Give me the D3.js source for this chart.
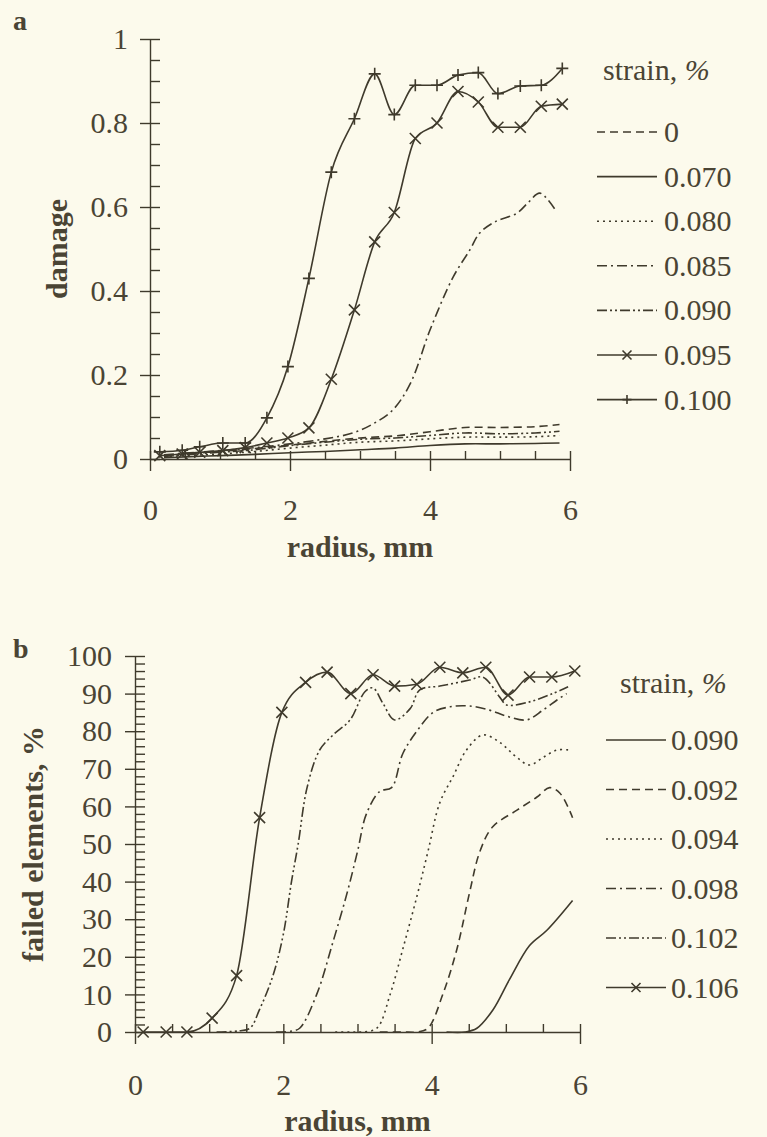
<!DOCTYPE html>
<html>
<head>
<meta charset="utf-8">
<script src="https://cdn.jsdelivr.net/npm/d3@7"></script>
<style>
  html, body { margin: 0; padding: 0; background: #fcfaec; }
  svg { display: block; }
</style>
</head>
<body>
<div id="chart"></div>
<script>
// ── Panel a: damage vs radius ────────────────────────────────────────────────
const aRadiusMarked = [0.14, 0.46, 0.71, 1.04, 1.36, 1.67, 1.97, 2.27, 2.59, 2.92,
                       3.21, 3.49, 3.79, 4.10, 4.40, 4.69, 4.97, 5.29, 5.59, 5.89];
const aDamage100 = [0.017, 0.021, 0.029, 0.038, 0.038, 0.098, 0.22, 0.43, 0.683, 0.81,
                    0.917, 0.82, 0.89, 0.89, 0.914, 0.92, 0.87, 0.888, 0.89, 0.93];
const aDamage095 = [0.008, 0.012, 0.016, 0.02, 0.027, 0.038, 0.05, 0.074, 0.19, 0.355,
                    0.517, 0.587, 0.763, 0.80, 0.875, 0.85, 0.79, 0.79, 0.84, 0.845];

const aRadiusLow = [0.2, 0.5, 1.0, 1.5, 2.0, 2.5, 3.0, 3.5, 4.0, 4.5, 5.0, 5.5, 5.85];
const aDamage0   = [0.008, 0.012, 0.018, 0.025, 0.033, 0.042, 0.05, 0.055, 0.065, 0.075, 0.075, 0.077, 0.082];
const aDamage090 = [0.006, 0.010, 0.016, 0.022, 0.032, 0.040, 0.047, 0.050, 0.056, 0.062, 0.060, 0.062, 0.066];
const aDamage080 = [0.005, 0.008, 0.012, 0.018, 0.026, 0.033, 0.040, 0.043, 0.048, 0.052, 0.052, 0.053, 0.056];
const aDamage070 = [0.003, 0.005, 0.008, 0.011, 0.015, 0.018, 0.022, 0.026, 0.032, 0.036, 0.036, 0.037, 0.038];

const aRadius085 = [0.2, 0.5, 1.0, 1.5, 2.0, 2.5, 2.9, 3.2, 3.47, 3.72, 4.0, 4.33, 4.57,
                    4.71, 4.93, 5.24, 5.4, 5.57, 5.81];
const aDamage085 = [0.01, 0.014, 0.02, 0.027, 0.036, 0.048, 0.062, 0.085, 0.117, 0.18, 0.307, 0.433, 0.498,
                    0.538, 0.565, 0.585, 0.61, 0.633, 0.588];

const aXTicks = [0, 2, 4, 6];
const aYTicks = [0, 0.2, 0.4, 0.6, 0.8, 1];

// ── Panel b: failed elements vs radius ──────────────────────────────────────
const bRadius106 = [0.11, 0.42, 0.70, 1.04, 1.37, 1.68, 1.98, 2.30, 2.59, 2.91,
                    3.21, 3.50, 3.80, 4.11, 4.42, 4.73, 5.03, 5.32, 5.62, 5.93];
const bFailed106 = [0, 0, 0, 3.7, 15, 57, 85, 93, 95.7, 90,
                    95, 92, 92.5, 97, 95.5, 97, 89.6, 94.4, 94.4, 96];

const bRadius102 = [1.1, 1.4, 1.55, 1.68, 1.86, 2.0, 2.11, 2.2, 2.32, 2.49, 2.67, 2.9, 3.1,
                    3.21, 3.34, 3.5, 3.71, 3.84, 4.11, 4.51, 4.69, 4.92, 5.01, 5.32, 5.63, 5.84];
const bFailed102 = [0, 0.3, 1, 6, 15, 26, 40, 50, 65, 75, 79, 83, 90.5,
                    91.5, 87.5, 83, 86, 91, 92, 93.6, 94.4, 89, 87, 87.8, 90, 91.8];

const bRadius098 = [1.9, 2.1, 2.22, 2.45, 2.67, 2.86, 3.0, 3.12, 3.3, 3.46, 3.61, 3.8, 4.02,
                    4.25, 4.51, 4.78, 5.01, 5.28, 5.5, 5.69, 5.82];
const bFailed098 = [0, 0.2, 1, 10, 24, 37, 48, 58, 64, 65, 74, 80, 85,
                    86.5, 86.7, 85.6, 84, 83, 85.6, 88.3, 90];

const bRadius094 = [2.7, 2.9, 3.05, 3.26, 3.44, 3.61, 3.8, 3.95, 4.11, 4.29, 4.47, 4.69,
                    4.92, 5.15, 5.32, 5.5, 5.69, 5.86];
const bFailed094 = [0, 0, 0, 1, 10, 22, 36, 48, 61, 68, 75, 79,
                    77, 73, 71, 73, 75, 75];

const bRadius092 = [3.3, 3.6, 3.8, 3.95, 4.15, 4.34, 4.51, 4.65, 4.82, 5.15, 5.42, 5.59, 5.73, 5.9];
const bFailed092 = [0, 0, 0, 1, 10, 22, 37, 48, 54.5, 59, 62.5, 65, 63.5, 57];

const bRadius090 = [4.2, 4.45, 4.61, 4.83, 5.05, 5.32, 5.55, 5.9];
const bFailed090 = [0, 0, 1, 6, 14, 23, 27, 35];

const bXTicks = [0, 2, 4, 6];
const bYTicks = [0, 10, 20, 30, 40, 50, 60, 70, 80, 90, 100];

// ── Line styles ─────────────────────────────────────────────────────────────
const INK = '#3f3a2c';
const TEXT = '#4a4434';
const FONT = '"Liberation Serif", "DejaVu Serif", serif';
const DASH = {
  solid: null,
  dashed: '8,5',
  dotted: '2,4',
  dashDot: '10,4,2,4',
  dashDotDot: '10,3,2,3,2,3'
};

const W = 767, H = 1137;

const svg = d3.select('#chart').append('svg')
  .attr('width', W)
  .attr('height', H)
  .attr('font-family', FONT);

svg.append('rect').attr('width', W).attr('height', H).attr('fill', '#fcfaec');

function zip(xs, ys) { return xs.map((x, i) => ({ x, y: ys[i] })); }

function marker(g, type, size) {
  const s = size;
  const d = type === 'plus'
    ? `M${-s},0H${s}M0,${-s}V${s}`
    : `M${-s},${-s}L${s},${s}M${-s},${s}L${s},${-s}`;
  g.append('path').attr('d', d).attr('stroke', INK).attr('stroke-width', 1.6).attr('fill', 'none');
}

function drawPanel(opt) {
  const { x, y, series, xTicks, yTicks, yMinor, xMinor, yFormat, yLabelPad } = opt;
  const g = svg.append('g');

  // axes
  const x0 = x.range()[0], y0 = y.range()[0];

  g.append('g')
    .attr('transform', `translate(${x0},0)`)
    .call(d3.axisLeft(y).tickValues(yTicks).tickFormat(yFormat).tickSize(10).tickSizeOuter(0).tickPadding(yLabelPad));
  g.append('g')
    .attr('transform', `translate(${x0},0)`)
    .call(d3.axisRight(y).tickValues(yMinor).tickFormat('').tickSize(10).tickSizeOuter(0))
    .select('.domain').remove();

  g.append('g')
    .attr('transform', `translate(0,${y0})`)
    .call(d3.axisBottom(x).tickValues(xTicks).tickFormat(d3.format('d')).tickSize(12).tickSizeOuter(0).tickPadding(opt.xLabelPad));
  g.append('g')
    .attr('transform', `translate(0,${y0})`)
    .call(d3.axisTop(x).tickValues(xMinor).tickFormat('').tickSize(8).tickSizeOuter(0))
    .select('.domain').remove();

  g.selectAll('.domain, .tick line').attr('stroke', INK).attr('stroke-width', 1.4);
  g.selectAll('g').attr('font-family', FONT).attr('font-size', 30);
  g.selectAll('.tick text').attr('fill', TEXT);

  // lines
  const smooth = d3.line()
    .x(d => x(d.x))
    .y(d => y(d.y))
    .curve(d3.curveCatmullRom.alpha(0.5));
  const marked = d3.line()
    .x(d => x(d.x))
    .y(d => y(d.y))
    .curve(d3.curveMonotoneX);

  series.forEach(s => {
    const pts = zip(s.r, s.v);
    g.append('path')
      .attr('d', (s.marker ? marked : smooth)(pts))
      .attr('fill', 'none')
      .attr('stroke', INK)
      .attr('stroke-width', 1.6)
      .attr('stroke-dasharray', DASH[s.style]);
    if (s.marker) {
      pts.forEach(p => {
        const m = g.append('g').attr('transform', `translate(${x(p.x)},${y(p.y)})`);
        marker(m, s.marker, s.marker === 'plus' ? 6 : 5.5);
      });
    }
  });

  // legend
  const lg = opt.legend;
  g.append('text')
    .attr('x', lg.titleX).attr('y', lg.titleY)
    .attr('font-size', 30).attr('fill', TEXT)
    .html('strain, <tspan font-style="italic">%</tspan>');

  lg.order.forEach((s, i) => {
    const cy = lg.firstY + i * lg.step;
    g.append('line')
      .attr('x1', lg.lineX1).attr('x2', lg.lineX2)
      .attr('y1', cy).attr('y2', cy)
      .attr('stroke', INK).attr('stroke-width', 1.6)
      .attr('stroke-dasharray', DASH[s.style]);
    if (s.marker) {
      const m = g.append('g').attr('transform', `translate(${(lg.lineX1 + lg.lineX2) / 2},${cy})`);
      marker(m, s.marker, 4.5);
    }
    g.append('text')
      .attr('x', lg.textX).attr('y', cy + 10)
      .attr('font-size', 30).attr('fill', TEXT)
      .text(s.name);
  });

  // titles
  g.append('text')
    .attr('x', (x.range()[0] + x.range()[1]) / 2)
    .attr('y', opt.xTitleY)
    .attr('text-anchor', 'middle')
    .attr('font-size', 30).attr('fill', TEXT)
    .attr('font-weight', 'bold')
    .text('radius, mm');

  g.append('text')
    .attr('transform', `translate(${opt.yTitleX},${(y.range()[0] + y.range()[1]) / 2}) rotate(-90)`)
    .attr('text-anchor', 'middle')
    .attr('font-size', 30).attr('fill', TEXT)
    .attr('font-weight', 'bold')
    .text(opt.yTitle);

  g.append('text')
    .attr('x', 13).attr('y', opt.tagY)
    .attr('font-size', 28).attr('fill', TEXT)
    .attr('font-weight', 'bold')
    .text(opt.tag);
}

// ── Panel a ─────────────────────────────────────────────────────────────────
const aSeries = {
  s0:   { name: '0',     r: aRadiusLow,    v: aDamage0,   style: 'dashed' },
  s070: { name: '0.070', r: aRadiusLow,    v: aDamage070, style: 'solid' },
  s080: { name: '0.080', r: aRadiusLow,    v: aDamage080, style: 'dotted' },
  s085: { name: '0.085', r: aRadius085,    v: aDamage085, style: 'dashDot' },
  s090: { name: '0.090', r: aRadiusLow,    v: aDamage090, style: 'dashDotDot' },
  s095: { name: '0.095', r: aRadiusMarked, v: aDamage095, style: 'solid', marker: 'cross' },
  s100: { name: '0.100', r: aRadiusMarked, v: aDamage100, style: 'solid', marker: 'plus' }
};
const aOrder = [aSeries.s0, aSeries.s070, aSeries.s080, aSeries.s085, aSeries.s090, aSeries.s095, aSeries.s100];

drawPanel({
  x: d3.scaleLinear().domain([0, 6]).range([150, 570]),
  y: d3.scaleLinear().domain([0, 1]).range([459, 39]),
  series: aOrder,
  xTicks: aXTicks,
  yTicks: aYTicks,
  yMinor: d3.range(0, 1.0001, 0.05),
  xMinor: d3.range(0, 6.0001, 0.5),
  yFormat: d => d === 0 || d === 1 ? String(d) : d3.format('.1f')(d),
  yLabelPad: 12,
  xLabelPad: 28,
  xTitleY: 557,
  yTitle: 'damage',
  yTitleX: 67,
  tag: 'a',
  tagY: 30,
  legend: { titleX: 603, titleY: 80, order: aOrder, firstY: 132, step: 44.6,
            lineX1: 597, lineX2: 657, textX: 664 }
});

// ── Panel b ─────────────────────────────────────────────────────────────────
const bSeries = {
  s090: { name: '0.090', r: bRadius090, v: bFailed090, style: 'solid' },
  s092: { name: '0.092', r: bRadius092, v: bFailed092, style: 'dashed' },
  s094: { name: '0.094', r: bRadius094, v: bFailed094, style: 'dotted' },
  s098: { name: '0.098', r: bRadius098, v: bFailed098, style: 'dashDot' },
  s102: { name: '0.102', r: bRadius102, v: bFailed102, style: 'dashDotDot' },
  s106: { name: '0.106', r: bRadius106, v: bFailed106, style: 'solid', marker: 'cross' }
};
const bOrder = [bSeries.s090, bSeries.s092, bSeries.s094, bSeries.s098, bSeries.s102, bSeries.s106];

drawPanel({
  x: d3.scaleLinear().domain([0, 6]).range([135, 580]),
  y: d3.scaleLinear().domain([0, 100]).range([1032, 656]),
  series: bOrder,
  xTicks: bXTicks,
  yTicks: bYTicks,
  yMinor: d3.range(0, 100.001, 2),
  xMinor: d3.range(0, 6.0001, 0.5),
  yFormat: d3.format('d'),
  yLabelPad: 13,
  xLabelPad: 30,
  xTitleY: 1131,
  yTitle: 'failed elements, %',
  yTitleX: 43,
  tag: 'b',
  tagY: 658,
  legend: { titleX: 620, titleY: 693, order: bOrder, firstY: 740, step: 49.5,
            lineX1: 606, lineX2: 666, textX: 671 }
});
</script>
</body>
</html>
